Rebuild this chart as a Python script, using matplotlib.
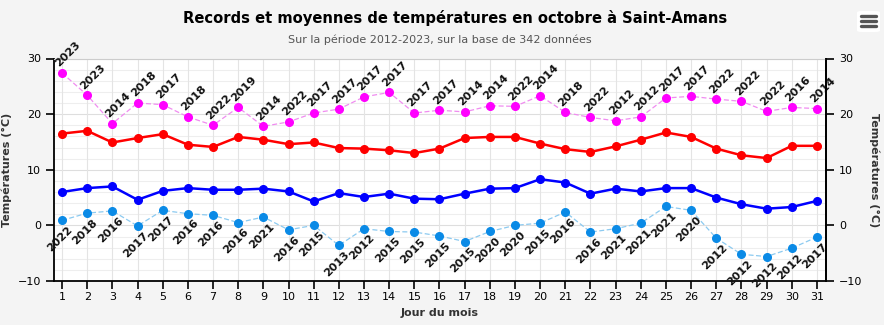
import matplotlib

matplotlib.use("Agg")

import matplotlib.pyplot as plt
from matplotlib.lines import Line2D
from matplotlib.patches import FancyBboxPatch
import numpy as np

plt.rcParams["font.family"] = ["DejaVu Sans"]

days = list(range(1, 32))

# records max (magenta) + année
rec_max = [27.4, 23.4, 18.3, 22.0, 21.7, 19.5, 18.0, 21.2, 17.8, 18.6,
           20.2, 20.9, 23.1, 23.9, 20.2, 20.7, 20.4, 21.5, 21.4, 23.3,
           20.3, 19.4, 18.8, 19.5, 22.9, 23.2, 22.7, 22.3, 20.5, 21.2, 21.0]
rec_max_year = ["2023", "2023", "2014", "2018", "2017", "2018", "2022", "2019", "2014", "2022",
                "2017", "2017", "2017", "2017", "2017", "2017", "2014", "2014", "2022", "2014",
                "2018", "2022", "2012", "2012", "2017", "2017", "2022", "2022", "2022", "2016", "2014"]

# moyennes des max (rouge)
mean_max = [16.5, 17.0, 14.9, 15.7, 16.4, 14.5, 14.1, 15.9, 15.4, 14.6,
            14.9, 13.9, 13.8, 13.5, 13.0, 13.8, 15.7, 15.9, 15.9, 14.7,
            13.7, 13.2, 14.2, 15.4, 16.7, 15.9, 13.8, 12.6, 12.1, 14.3, 14.3]

# moyennes des min (bleu)
mean_min = [6.0, 6.7, 7.0, 4.6, 6.2, 6.7, 6.4, 6.4, 6.6, 6.1,
            4.3, 5.8, 5.1, 5.7, 4.8, 4.7, 5.7, 6.6, 6.7, 8.3,
            7.7, 5.7, 6.6, 6.1, 6.7, 6.7, 5.0, 3.8, 3.0, 3.3, 4.4]

# records min (bleu clair) + année
rec_min = [0.9, 2.2, 2.6, -0.1, 2.7, 2.1, 1.8, 0.5, 1.5, -0.8,
           0.0, -3.6, -0.6, -1.1, -1.2, -1.9, -2.9, -1.1, 0.0, 0.4,
           2.4, -1.2, -0.6, 0.4, 3.4, 2.7, -2.3, -5.2, -5.6, -4.1, -2.1]
rec_min_year = ["2022", "2018", "2016", "2017", "2017", "2016", "2016", "2016", "2021", "2016",
                "2015", "2013", "2012", "2015", "2015", "2015", "2015", "2020", "2020", "2015",
                "2016", "2016", "2021", "2021", "2021", "2020", "2012", "2012", "2012", "2012", "2017"]

BG = "#f4f4f4"

fig = plt.figure(figsize=(8.84, 3.25), dpi=100, facecolor=BG)
ax = fig.add_axes([54 / 884, 1 - 281 / 325, 772 / 884, (281 - 58.5) / 325])
ax.set_facecolor("white")

ax.set_xlim(0.68, 31.36)
ax.set_ylim(-10, 30)

# grille
for y in np.arange(-10, 31, 2):
    ax.axhline(y, color="#dedede" if y % 10 == 0 else "#eeeeee", lw=0.8, zorder=0)
for d in days:
    ax.axvline(d, color="#e4e4e4", lw=0.8, zorder=0)

ax.plot(days, rec_max, color="#f08cf0", lw=0.9, ls=(0, (4, 2)), zorder=2)
ax.plot(days, rec_max, "o", color="#ff00ff", ms=5.5, zorder=3)
ax.plot(days, mean_max, "-o", color="#ff0000", lw=1.8, ms=5.5, zorder=3)
ax.plot(days, mean_min, "-o", color="#0000ff", lw=1.8, ms=5.5, zorder=3)
ax.plot(days, rec_min, color="#8ccaf0", lw=0.9, ls=(0, (4, 2)), zorder=2)
ax.plot(days, rec_min, "o", color="#0a8ae6", ms=5.5, zorder=3)

for d, v, yr in zip(days, rec_max, rec_max_year):
    ax.annotate(yr, (d, v), xytext=(-1, 3), textcoords="offset points",
                rotation=45, rotation_mode="anchor", ha="left", va="bottom",
                fontsize=8, fontweight="bold", color="#111111", zorder=4)
for d, v, yr in zip(days, rec_min, rec_min_year):
    ax.annotate(yr, (d, v), xytext=(4, -3), textcoords="offset points",
                rotation=45, rotation_mode="anchor", ha="right", va="top",
                fontsize=8, fontweight="bold", color="#111111", zorder=4)

ax.set_xticks(days)
ax.set_yticks([-10, 0, 10, 20, 30])
ax.tick_params(axis="both", labelsize=8, length=6, width=1.2, color="black")
ax.tick_params(axis="x", pad=2)
for s in ["left", "bottom", "right"]:
    ax.spines[s].set_color("black")
    ax.spines[s].set_linewidth(1.3)
ax.spines["top"].set_color("#cccccc")
ax.spines["top"].set_linewidth(0.8)

ax.set_xlabel("Jour du mois", fontsize=8, fontweight="bold", color="#333333", labelpad=4)
ax.set_ylabel("Températures (°C)", fontsize=8, fontweight="bold", color="#333333", labelpad=4)

ax2 = ax.twinx()
ax2.set_ylim(-10, 30)
ax2.set_yticks([-10, 0, 10, 20, 30])
ax2.tick_params(axis="y", labelsize=8, length=6, width=1.2, color="black")
for s in ["left", "bottom", "top"]:
    ax2.spines[s].set_visible(False)
ax2.spines["right"].set_color("black")
ax2.spines["right"].set_linewidth(1.3)
ax2.set_ylabel("Températures (°C)", fontsize=8, fontweight="bold", color="#333333",
               rotation=-90, labelpad=12)

fig.text(455 / 884, 1 - 18 / 325, "Records et moyennes de températures en octobre à Saint-Amans",
         ha="center", va="center", fontsize=10.6, fontweight="bold", color="black")
fig.text(440 / 884, 1 - 40 / 325, "Sur la période 2012-2023, sur la base de 342 données",
         ha="center", va="center", fontsize=8, color="#555555")

# bouton menu
fig.add_artist(FancyBboxPatch((857 / 884, 1 - 32 / 325), 23 / 884, 21 / 325,
                              boxstyle="round,pad=0,rounding_size=0.005",
                              transform=fig.transFigure, facecolor="white", edgecolor="none"))
for yy in [16, 20.7, 25.7]:
    fig.add_artist(Line2D([861 / 884, 876 / 884], [1 - yy / 325] * 2,
                          transform=fig.transFigure, color="#555555", lw=2.4,
                          solid_capstyle="round"))

fig.savefig("out.png", dpi=100, facecolor=BG)
